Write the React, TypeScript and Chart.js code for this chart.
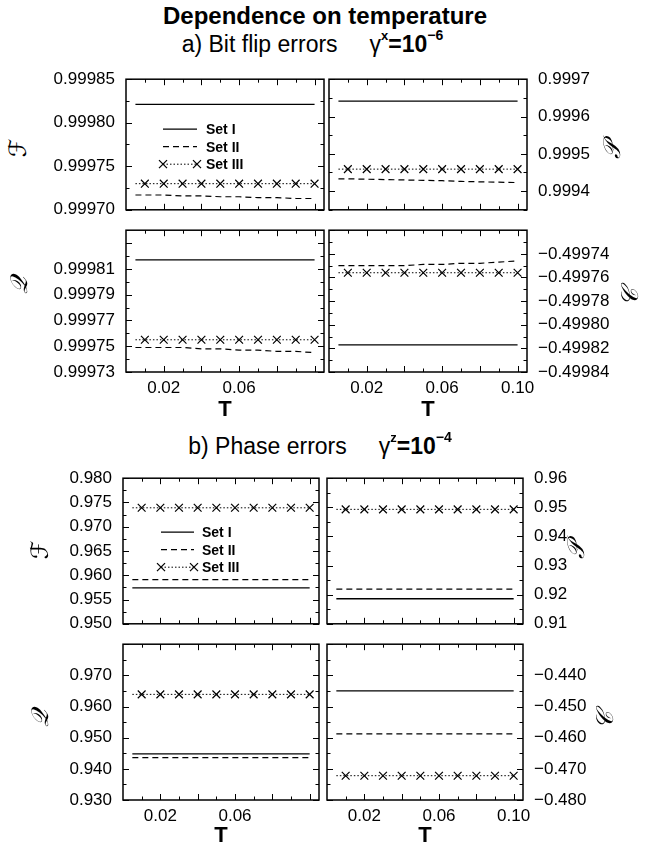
import React, { useEffect, useRef } from 'react';
import { Chart, registerables } from 'chart.js';

Chart.register(...registerables);

const FONT = '"Liberation Sans", Arial, Helvetica, sans-serif';

// Temperature grid (lines start at 0.005, crosses every 0.01)
const T = [0.005, 0.01, 0.02, 0.03, 0.04, 0.05, 0.06, 0.07, 0.08, 0.09, 0.1];
const X_MARKS = [0.01, 0.02, 0.03, 0.04, 0.05, 0.06, 0.07, 0.08, 0.09, 0.1];
const X_LABELS_LEFT = ['0.02', '0.06'];
const X_LABELS_RIGHT = ['0.02', '0.06', '0.10'];
const X_RANGE: [number, number] = [0, 0.105];

// a) Bit flip errors
const F_A_SET1 = [0.999821, 0.999821, 0.999821, 0.999821, 0.999821, 0.999821, 0.999821, 0.999821, 0.999821, 0.999821, 0.999821];
const F_A_SET2 = [0.999717, 0.999717, 0.999717, 0.999716, 0.999716, 0.999715, 0.999715, 0.999714, 0.999714, 0.999713, 0.999713];
const F_A_SET3 = [0.99973, 0.99973, 0.99973, 0.99973, 0.99973, 0.99973, 0.99973, 0.99973, 0.99973, 0.99973, 0.99973];
const F_A_TICKS = ['0.99970', '0.99975', '0.99980', '0.99985'];
const F_A_RANGE: [number, number] = [0.9997, 0.99985];

const P_A_SET1 = [0.999641, 0.999641, 0.999641, 0.999641, 0.999641, 0.999641, 0.999641, 0.999641, 0.999641, 0.999641, 0.999641];
const P_A_SET2 = [0.999433, 0.999433, 0.999432, 0.999431, 0.99943, 0.999429, 0.999428, 0.999426, 0.999425, 0.999424, 0.999423];
const P_A_SET3 = [0.999459, 0.999459, 0.999459, 0.999459, 0.999459, 0.999459, 0.999459, 0.999459, 0.999459, 0.999459, 0.999459];
const P_A_TICKS = ['0.9994', '0.9995', '0.9996', '0.9997'];
const P_A_RANGE: [number, number] = [0.99935, 0.9997];

const Q_A_SET1 = [0.999817, 0.999817, 0.999817, 0.999817, 0.999817, 0.999817, 0.999817, 0.999817, 0.999817, 0.999817, 0.999817];
const Q_A_SET2 = [0.999749, 0.999749, 0.999749, 0.999749, 0.999748, 0.999748, 0.999747, 0.999747, 0.999746, 0.999746, 0.999745];
const Q_A_SET3 = [0.999755, 0.999755, 0.999755, 0.999755, 0.999755, 0.999755, 0.999755, 0.999755, 0.999755, 0.999755, 0.999755];
const Q_A_TICKS = ['0.99973', '0.99975', '0.99977', '0.99979', '0.99981'];
const Q_A_RANGE: [number, number] = [0.99973, 0.99984];

const C_A_SET1 = [-0.499817, -0.499817, -0.499817, -0.499817, -0.499817, -0.499817, -0.499817, -0.499817, -0.499817, -0.499817, -0.499817];
const C_A_SET2 = [-0.49975, -0.49975, -0.49975, -0.49975, -0.49975, -0.499749, -0.499749, -0.499748, -0.499748, -0.499747, -0.499746];
const C_A_SET3 = [-0.499756, -0.499756, -0.499756, -0.499756, -0.499756, -0.499756, -0.499756, -0.499756, -0.499756, -0.499756, -0.499756];
const C_A_TICKS = ['−0.49984', '−0.49982', '−0.49980', '−0.49978', '−0.49976', '−0.49974'];
const C_A_RANGE: [number, number] = [-0.49984, -0.49972];

// b) Phase errors
const F_B_SET1 = [0.9574, 0.9574, 0.9574, 0.9574, 0.9574, 0.9574, 0.9574, 0.9574, 0.9574, 0.9574, 0.9574];
const F_B_SET2 = [0.9591, 0.9591, 0.9591, 0.9591, 0.9591, 0.9591, 0.9591, 0.9591, 0.9591, 0.9591, 0.9591];
const F_B_SET3 = [0.9739, 0.9739, 0.9739, 0.9739, 0.9739, 0.9739, 0.9739, 0.9739, 0.9739, 0.9739, 0.9739];
const F_B_TICKS = ['0.950', '0.955', '0.960', '0.965', '0.970', '0.975', '0.980'];
const F_B_RANGE: [number, number] = [0.95, 0.98];

const P_B_SET1 = [0.9186, 0.9186, 0.9186, 0.9186, 0.9186, 0.9186, 0.9186, 0.9186, 0.9186, 0.9186, 0.9186];
const P_B_SET2 = [0.9219, 0.9219, 0.9219, 0.9219, 0.9219, 0.9219, 0.9219, 0.9219, 0.9219, 0.9219, 0.9219];
const P_B_SET3 = [0.9493, 0.9493, 0.9493, 0.9493, 0.9493, 0.9493, 0.9493, 0.9493, 0.9493, 0.9493, 0.9493];
const P_B_TICKS = ['0.91', '0.92', '0.93', '0.94', '0.95', '0.96'];
const P_B_RANGE: [number, number] = [0.91, 0.96];

const Q_B_SET1 = [0.9448, 0.9448, 0.9448, 0.9448, 0.9448, 0.9448, 0.9448, 0.9448, 0.9448, 0.9448, 0.9448];
const Q_B_SET2 = [0.9436, 0.9436, 0.9436, 0.9436, 0.9436, 0.9436, 0.9436, 0.9436, 0.9436, 0.9436, 0.9436];
const Q_B_SET3 = [0.9639, 0.9639, 0.9639, 0.9639, 0.9639, 0.9639, 0.9639, 0.9639, 0.9639, 0.9639, 0.9639];
const Q_B_TICKS = ['0.930', '0.940', '0.950', '0.960', '0.970'];
const Q_B_RANGE: [number, number] = [0.93, 0.98];

const C_B_SET1 = [-0.445, -0.445, -0.445, -0.445, -0.445, -0.445, -0.445, -0.445, -0.445, -0.445, -0.445];
const C_B_SET2 = [-0.4588, -0.4588, -0.4588, -0.4588, -0.4588, -0.4588, -0.4588, -0.4588, -0.4588, -0.4588, -0.4588];
const C_B_SET3 = [-0.4722, -0.4722, -0.4722, -0.4722, -0.4722, -0.4722, -0.4722, -0.4722, -0.4722, -0.4722, -0.4722];
const C_B_TICKS = ['−0.480', '−0.470', '−0.460', '−0.450', '−0.440'];
const C_B_RANGE: [number, number] = [-0.48, -0.43];

const LEGEND_LABELS = ['Set I', 'Set II', 'Set III'];

const num = (s: string) => parseFloat(s.replace('−', '-'));

const AXW = 92;
const SIDE = 8;
const TOPPAD = 12;
const XH = 34;

type LegendCfg = { dx: number; dy: number; gap: number; len: number; textDx: number };

type PanelProps = {
  left: number; top: number; width: number; height: number;
  side: 'left' | 'right';
  range: [number, number];
  yLabels: string[];
  minorStep: number;
  xLabels: string[] | null;
  s1: number[]; s2: number[]; s3: number[];
  legend?: LegendCfg;
};

const framePlugin = {
  id: 'frameTicks',
  afterDraw(chart: any, _args: any, opts: any) {
    const { ctx, chartArea: a, scales } = chart;
    const line = (x1: number, y1: number, x2: number, y2: number) => {
      ctx.beginPath(); ctx.moveTo(x1, y1); ctx.lineTo(x2, y2); ctx.stroke();
    };
    ctx.save();
    ctx.strokeStyle = '#000';
    ctx.setLineDash([]);
    ctx.lineWidth = 1;
    const ref = opts.yRef as number, st = opts.minorStep as number;
    const [mn, mx] = opts.range as [number, number];
    const k0 = Math.ceil((mn - ref) / st - 1e-6), k1 = Math.floor((mx - ref) / st + 1e-6);
    for (let k = k0; k <= k1; k++) {
      const v = ref + k * st;
      const y = Math.round(scales.y.getPixelForValue(v)) + 0.5;
      const len = k % 2 === 0 ? 6 : 3.5;
      line(a.left, y, a.left + len, y);
      line(a.right, y, a.right - len, y);
    }
    X_MARKS.forEach((v, i) => {
      const x = Math.round(scales.x.getPixelForValue(v)) + 0.5;
      const len = i % 2 === 1 ? 6 : 3.5;
      line(x, a.top, x, a.top + len);
      line(x, a.bottom, x, a.bottom - len);
    });
    ctx.lineWidth = 1.5;
    ctx.strokeRect(a.left, a.top, a.right - a.left, a.bottom - a.top);
    const lg = opts.legend as LegendCfg | undefined;
    if (lg) {
      const x0 = a.left + lg.dx, x1 = x0 + lg.len;
      ctx.font = `bold 14px ${FONT}`;
      ctx.fillStyle = '#000';
      ctx.textBaseline = 'middle';
      ctx.textAlign = 'left';
      LEGEND_LABELS.forEach((lab, i) => {
        const y = a.top + lg.dy + i * lg.gap;
        ctx.lineWidth = i === 0 ? 1.3 : i === 1 ? 1.2 : 1;
        ctx.setLineDash(i === 0 ? [] : i === 1 ? [6, 4] : [1.5, 2]);
        line(x0, y, x1, y);
        ctx.setLineDash([]);
        if (i === 2) {
          ctx.lineWidth = 1.2;
          [x0, x1].forEach((cx) => {
            line(cx - 4, y - 4, cx + 4, y + 4);
            line(cx - 4, y + 4, cx + 4, y - 4);
          });
        }
        ctx.fillText(lab, a.left + lg.textDx, y + 1);
      });
    }
    ctx.restore();
  },
};

function Panel(p: PanelProps) {
  const ref = useRef<HTMLCanvasElement>(null);
  const padL = p.side === 'left' ? AXW : SIDE;
  const padR = p.side === 'right' ? AXW : SIDE;
  const padB = p.xLabels ? XH : TOPPAD;
  const cw = p.width + padL + padR;
  const ch = p.height + TOPPAD + padB;

  useEffect(() => {
    const pts = (vals: number[]) => T.map((t, i) => ({ x: t, y: vals[i] }));
    const xl = p.xLabels;
    const chart = new Chart(ref.current!, {
      type: 'line',
      data: {
        datasets: [
          { data: pts(p.s1), borderColor: '#000', borderWidth: 1.3, pointRadius: 0, fill: false },
          { data: pts(p.s2), borderColor: '#000', borderWidth: 1.2, borderDash: [6, 4], pointRadius: 0, fill: false },
          {
            data: pts(p.s3), borderColor: '#000', borderWidth: 1, borderDash: [1.5, 2], fill: false,
            pointStyle: 'crossRot', pointRadius: T.map((_, i) => (i === 0 ? 0 : 5.5)),
            pointBorderColor: '#000', pointBackgroundColor: '#000', pointBorderWidth: 1.2,
          },
        ],
      } as any,
      options: {
        animation: false,
        responsive: false,
        maintainAspectRatio: false,
        events: [],
        layout: {
          padding: {
            left: p.side === 'left' ? 0 : SIDE,
            right: p.side === 'right' ? 0 : SIDE,
            top: TOPPAD,
            bottom: p.xLabels ? 0 : TOPPAD,
          },
        },
        plugins: {
          legend: { display: false },
          tooltip: { enabled: false },
          frameTicks: {
            yRef: num(p.yLabels[0]),
            minorStep: p.minorStep,
            range: p.range,
            legend: p.legend,
          },
        } as any,
        scales: {
          x: {
            type: 'linear',
            min: X_RANGE[0],
            max: X_RANGE[1],
            grid: { display: false, drawTicks: false },
            border: { display: false },
            ticks: {
              display: !!xl,
              color: '#000',
              font: { family: FONT, size: 17 },
              padding: 6,
              maxRotation: 0,
              autoSkip: false,
              callback: (v: any) => {
                const s = (xl || []).find((l) => Math.abs(num(l) - v) < 1e-9);
                return s ?? '';
              },
            },
            afterBuildTicks: (s: any) => { s.ticks = (xl || []).map((l) => ({ value: num(l) })); },
            afterFit: (s: any) => { s.height = xl ? XH : 0; },
          },
          y: {
            type: 'linear',
            position: p.side,
            min: p.range[0],
            max: p.range[1],
            grid: { display: false, drawTicks: false },
            border: { display: false },
            ticks: {
              color: '#000',
              font: { family: FONT, size: 17 },
              padding: 11,
              autoSkip: false,
              callback: (v: any) => {
                const s = p.yLabels.find((l) => Math.abs(num(l) - v) < 1e-9);
                return s ?? '';
              },
            },
            afterBuildTicks: (s: any) => { s.ticks = p.yLabels.map((l) => ({ value: num(l) })); },
            afterFit: (s: any) => { s.width = AXW; },
          },
        },
      } as any,
      plugins: [framePlugin as any],
    });
    return () => chart.destroy();
  }, []);

  return (
    <canvas
      ref={ref}
      width={cw}
      height={ch}
      style={{ position: 'absolute', left: p.left - padL, top: p.top - TOPPAD, width: cw, height: ch }}
    />
  );
}

const txt = (style: React.CSSProperties, children: React.ReactNode) => (
  <div style={{ position: 'absolute', fontFamily: FONT, color: '#000', whiteSpace: 'nowrap', lineHeight: 1, ...style }}>
    {children}
  </div>
);

const Letter = ({ ch, x, y }: { ch: string; x: number; y: number }) => (
  <div
    style={{
      position: 'absolute', left: x, top: y, transform: 'translate(-50%, -50%) rotate(-90deg)',
      fontFamily: '"DejaVu Serif", "DejaVu Sans", serif', fontStyle: 'italic', fontSize: 24, lineHeight: 1, color: '#000',
    }}
  >
    {ch}
  </div>
);

const Gamma = ({ sup, exp }: { sup: string; exp: string }) => (
  <span style={{ marginLeft: 32 }}>
    γ<sup style={{ fontWeight: 'bold', fontSize: 13, verticalAlign: 'top', position: 'relative', top: -4 }}>{sup}</sup>
    <b>=10<sup style={{ fontSize: 14, verticalAlign: 'top', position: 'relative', top: -5 }}>{exp}</sup></b>
  </span>
);

export default function App() {
  const legA: LegendCfg = { dx: 37, dy: 50, gap: 17.5, len: 34, textDx: 80 };
  const legB: LegendCfg = { dx: 38, dy: 54, gap: 17.5, len: 33, textDx: 79 };
  return (
    <div style={{ position: 'absolute', left: 0, top: 0, width: 645, height: 848, background: '#fff', overflow: 'hidden' }}>
      {txt({ left: 0, width: 650, top: 4, textAlign: 'center', fontSize: 24, fontWeight: 'bold' }, 'Dependence on temperature')}
      {txt({ left: 0, width: 625, top: 33, textAlign: 'center', fontSize: 23 }, <>a) Bit flip errors<Gamma sup="x" exp="−6" /></>)}

      <Panel left={126} top={70} width={198} height={149} side="left" range={F_A_RANGE} yLabels={F_A_TICKS} minorStep={0.000025}
        xLabels={null} s1={F_A_SET1} s2={F_A_SET2} s3={F_A_SET3} legend={legA} />
      <Panel left={126} top={221} width={198} height={151} side="left" range={Q_A_RANGE} yLabels={Q_A_TICKS} minorStep={0.00001}
        xLabels={X_LABELS_LEFT} s1={Q_A_SET1} s2={Q_A_SET2} s3={Q_A_SET3} />
      <Panel left={329} top={70} width={198} height={149} side="right" range={P_A_RANGE} yLabels={P_A_TICKS} minorStep={0.00005}
        xLabels={null} s1={P_A_SET1} s2={P_A_SET2} s3={P_A_SET3} />
      <Panel left={329} top={221} width={198} height={151} side="right" range={C_A_RANGE} yLabels={C_A_TICKS} minorStep={0.00001}
        xLabels={X_LABELS_RIGHT} s1={C_A_SET1} s2={C_A_SET2} s3={C_A_SET3} />

      <Letter ch="ℱ" x={18} y={148} />
      <Letter ch="𝒬" x={19} y={285} />
      <Letter ch="𝒫" x={612} y={150} />
      <Letter ch="𝒞" x={630} y={297} />
      {txt({ left: 225, top: 398, transform: 'translateX(-50%)', fontSize: 22, fontWeight: 'bold' }, 'T')}
      {txt({ left: 428, top: 398, transform: 'translateX(-50%)', fontSize: 22, fontWeight: 'bold' }, 'T')}

      {txt({ left: 0, width: 640, top: 435, textAlign: 'center', fontSize: 23 }, <>b) Phase errors<Gamma sup="z" exp="−4" /></>)}

      <Panel left={123} top={469} width={196} height={164} side="left" range={F_B_RANGE} yLabels={F_B_TICKS} minorStep={0.0025}
        xLabels={null} s1={F_B_SET1} s2={F_B_SET2} s3={F_B_SET3} legend={legB} />
      <Panel left={123} top={635} width={196} height={165} side="left" range={Q_B_RANGE} yLabels={Q_B_TICKS} minorStep={0.005}
        xLabels={X_LABELS_LEFT} s1={Q_B_SET1} s2={Q_B_SET2} s3={Q_B_SET3} />
      <Panel left={327} top={469} width={196} height={164} side="right" range={P_B_RANGE} yLabels={P_B_TICKS} minorStep={0.005}
        xLabels={null} s1={P_B_SET1} s2={P_B_SET2} s3={P_B_SET3} />
      <Panel left={327} top={635} width={196} height={165} side="right" range={C_B_RANGE} yLabels={C_B_TICKS} minorStep={0.005}
        xLabels={X_LABELS_RIGHT} s1={C_B_SET1} s2={C_B_SET2} s3={C_B_SET3} />

      <Letter ch="ℱ" x={40} y={550} />
      <Letter ch="𝒬" x={40} y={718} />
      <Letter ch="𝒫" x={576} y={550} />
      <Letter ch="𝒞" x={605} y={720} />
      {txt({ left: 221, top: 824, transform: 'translateX(-50%)', fontSize: 22, fontWeight: 'bold' }, 'T')}
      {txt({ left: 425, top: 824, transform: 'translateX(-50%)', fontSize: 22, fontWeight: 'bold' }, 'T')}
    </div>
  );
}
